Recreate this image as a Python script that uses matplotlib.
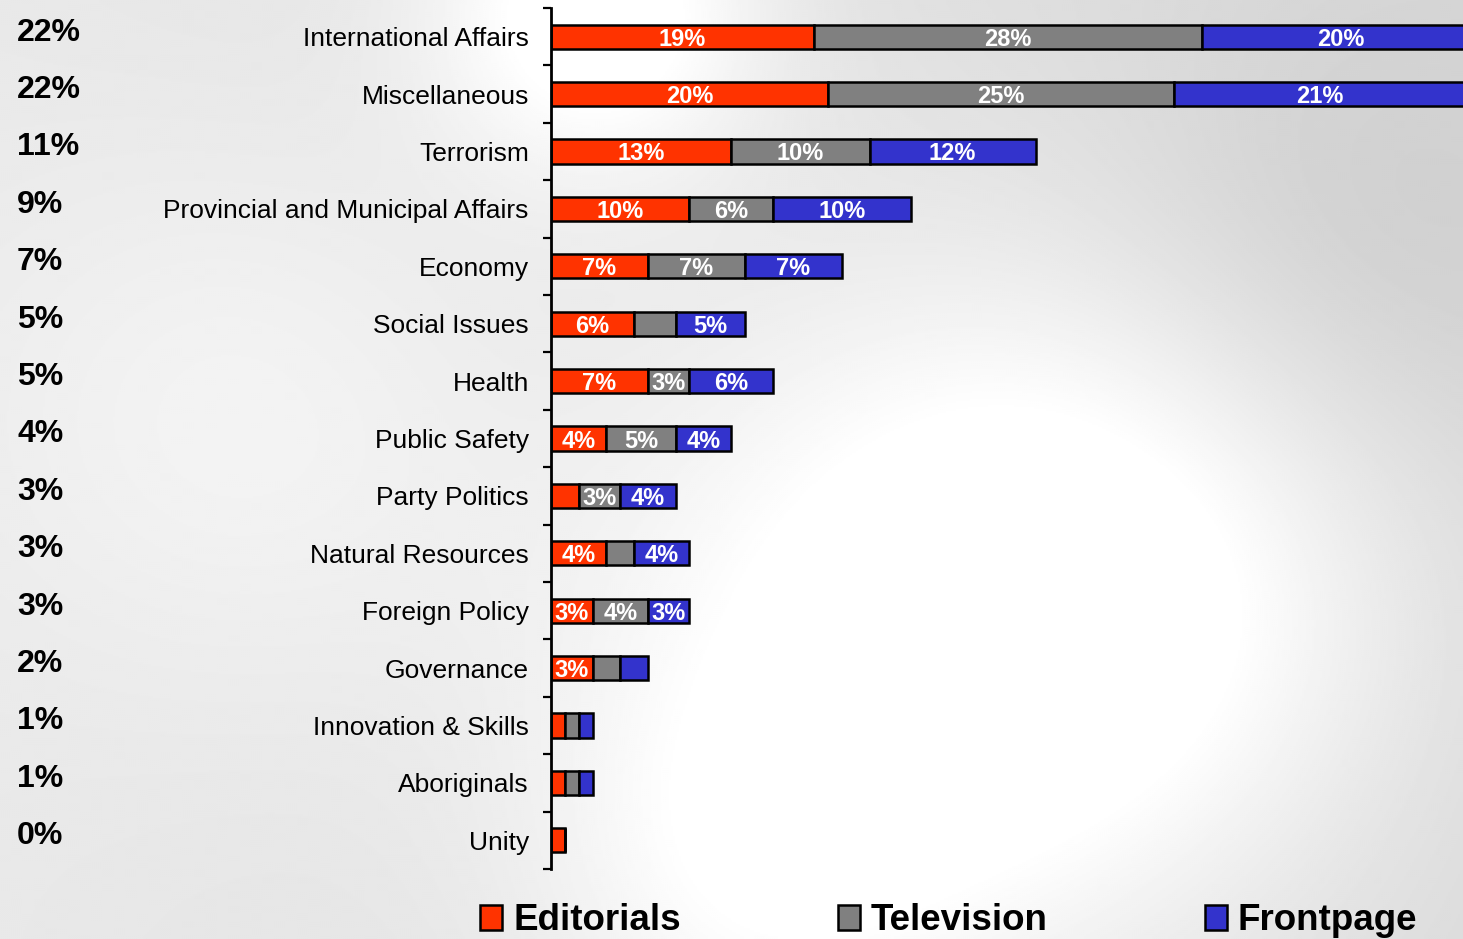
import numpy as np
import matplotlib
matplotlib.use("Agg")
import matplotlib.pyplot as plt
from matplotlib.transforms import blended_transform_factory
from matplotlib import font_manager

categories = ["International Affairs", "Miscellaneous", "Terrorism",
              "Provincial and Municipal Affairs", "Economy", "Social Issues",
              "Health", "Public Safety", "Party Politics", "Natural Resources",
              "Foreign Policy", "Governance", "Innovation & Skills",
              "Aboriginals", "Unity"]
totals = ["22%", "22%", "11%", "9%", "7%", "5%", "5%", "4%", "3%", "3%",
          "3%", "2%", "1%", "1%", "0%"]
editorials = [19, 20, 13, 10, 7, 6, 7, 4, 2, 4, 3, 3, 1, 1, 1]
television = [28, 25, 10, 6, 7, 3, 3, 5, 3, 2, 4, 2, 1, 1, 0]
frontpage = [20, 21, 12, 10, 7, 5, 6, 4, 4, 4, 3, 2, 1, 1, 0]
editorials_labels = ["19%", "20%", "13%", "10%", "7%", "6%", "7%", "4%", "",
                     "4%", "3%", "3%", "", "", ""]
television_labels = ["28%", "25%", "10%", "6%", "7%", "", "3%", "5%", "3%",
                     "", "4%", "", "", "", ""]
frontpage_labels = ["20%", "21%", "12%", "10%", "7%", "5%", "6%", "4%", "4%",
                    "4%", "3%", "", "", "", ""]
series_names = ["Editorials", "Television", "Frontpage"]
colors = ["#FF3300", "#808080", "#3333CC"]

W, H = 1463, 939
fig = plt.figure(figsize=(W / 100, H / 100), dpi=100)

# soft photographic-like grey background
bg = fig.add_axes([0, 0, 1, 1], zorder=-10)
yy, xx = np.mgrid[0:H:2, 0:W:2]
field = np.full(xx.shape, 0.85)
field += 0.06 * (1 - xx / W)
blobs = [(600, 10, 120, 0.14), (950, 650, 260, 0.14), (1150, 560, 200, 0.08),
         (250, 420, 200, 0.05), (750, 880, 150, 0.06), (1350, 250, 180, -0.05)]
for cx, cy, r, a in blobs:
    field += a * np.exp(-(((xx - cx) ** 2 + (yy - cy) ** 2) / (2 * r ** 2)))
field = np.clip(field, 0, 1)
bg.imshow(field, cmap="gray", vmin=0, vmax=1, aspect="auto",
          extent=[0, 1, 0, 1], interpolation="bilinear")
bg.set_xlim(0, 1)
bg.set_ylim(0, 1)
bg.axis("off")

ax_left = 551 / W
ax_top = 1 - 8 / H
ax_bottom = 1 - 869 / H
ax = fig.add_axes([ax_left, ax_bottom, 1 - ax_left, ax_top - ax_bottom])
ax.patch.set_alpha(0)

y = np.arange(len(categories))
bar_h = 0.42
edge_kw = dict(edgecolor="black", linewidth=1.8)
left = np.zeros(len(categories))
containers = []
for vals, labs, col, name in zip([editorials, television, frontpage],
                                 [editorials_labels, television_labels, frontpage_labels],
                                 colors, series_names):
    vals = np.array(vals, dtype=float)
    bc = ax.barh(y, vals, left=left, height=bar_h, color=col, label=name, **edge_kw)
    containers.append(bc)
    for yi, l, v, lab in zip(y, left, vals, labs):
        if lab:
            ax.text(l + v / 2, yi, lab, ha="center", va="center_baseline", color="white",
                    fontsize=17, fontweight="bold", family="Liberation Sans")
    left = left + vals

ax.set_xlim(0, 65.85)
ax.set_ylim(len(categories) - 0.5, -0.5)
for s in ["top", "right", "bottom"]:
    ax.spines[s].set_visible(False)
ax.spines["left"].set_linewidth(2)
ax.set_xticks([])
ax.set_yticks(y)
ax.set_yticklabels(categories, fontsize=19, family="Liberation Sans")
ax.tick_params(axis="y", which="major", length=0, pad=16)
ax.set_yticks(np.arange(-0.5, len(categories), 1.0), minor=True)
ax.tick_params(axis="y", which="minor", length=6, width=1.6, direction="out")

trans = blended_transform_factory(fig.transFigure, ax.transData)
for yi, t in zip(y, totals):
    ax.text(17 / W, yi - 0.07, t, transform=trans, ha="left", va="center",
            fontsize=23, fontweight="bold", family="Liberation Sans")

available = {f.name for f in font_manager.fontManager.ttflist}
leg_family = "Liberation Sans Narrow" if "Liberation Sans Narrow" in available else "Liberation Sans"
leg_size = 30 if leg_family == "Liberation Sans Narrow" else 26.5
leg = fig.legend(handles=containers, labels=series_names, loc="center left",
                 bbox_to_anchor=(480 / W, 1 - 921 / H), ncol=3, frameon=False,
                 borderpad=0, borderaxespad=0, handlelength=0.6,
                 handleheight=0.68, handletextpad=0.3,
                 columnspacing=157 / (leg_size * 100 / 72),
                 prop={"family": leg_family, "weight": "bold", "size": leg_size})

fig.savefig("out.png", dpi=100)
